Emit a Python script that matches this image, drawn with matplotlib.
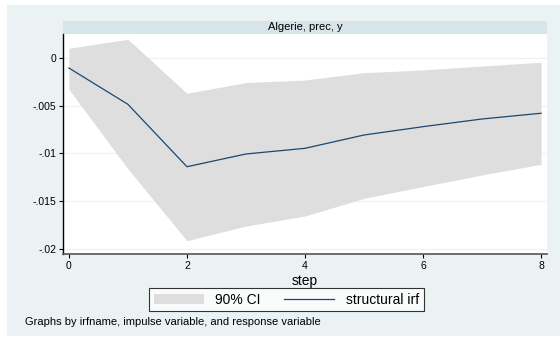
import matplotlib
matplotlib.use("Agg")
import matplotlib.pyplot as plt
from matplotlib.patches import Rectangle, Patch
from matplotlib.lines import Line2D

plt.rcParams['font.family'] = ['Liberation Sans', 'DejaVu Sans']

# impulse response
steps = [0, 1, 2, 3, 4, 5, 6, 7, 8]
irf = [-0.00108, -0.00487, -0.01138, -0.01005, -0.00946, -0.00807, -0.0072, -0.0064, -0.0058]
ci_upper = [0.00098, 0.00192, -0.00372, -0.0026, -0.00233, -0.00157, -0.00128, -0.00087, -0.00048]
ci_lower = [-0.0033, -0.0116, -0.0191, -0.01757, -0.01652, -0.01468, -0.01345, -0.01224, -0.01113]

yticks = [0, -0.005, -0.01, -0.015, -0.02]
ytick_labels = ['0', '-.005', '-.01', '-.015', '-.02']
xticks = [0, 2, 4, 6, 8]

panel_title = 'Algerie, prec, y'
note = 'Graphs by irfname, impulse variable, and response variable'

W, H = 560, 338
bg = '#eaf2f3'
strip = '#d7e4ea'
ci_col = '#dedede'
line_col = '#1a476f'

fig = plt.figure(figsize=(W / 100, H / 100), dpi=100)
fig.patch.set_facecolor('white')


def fx(px):
    return px / W


def fy(py):
    return 1 - py / H


# light blue background of the graph region
fig.patches.append(Rectangle((fx(7), fy(336)), fx(553), 331 / H, transform=fig.transFigure,
                             facecolor=bg, edgecolor='none', zorder=-10))
# title strip
fig.patches.append(Rectangle((fx(63), fy(34)), fx(484), 13 / H, transform=fig.transFigure,
                             facecolor=strip, edgecolor='none', zorder=-5))
fig.text(fx(305), fy(27.5), panel_title, ha='center', va='center', fontsize=8)

ax = fig.add_axes([fx(63), fy(254.3), fx(484), (254.3 - 34) / H])
ax.set_facecolor('white')
ax.fill_between(steps, ci_lower, ci_upper, color=ci_col, linewidth=0, zorder=2)
ax.plot(steps, irf, color=line_col, linewidth=0.9, zorder=3)

ax.set_xlim(-0.1, 8.1)
ax.set_ylim(-0.02052, 0.00247)
ax.set_yticks(yticks)
ax.set_yticklabels(ytick_labels)
ax.set_xticks(xticks)
ax.grid(axis='y', color=bg, linewidth=0.8, zorder=1)
ax.set_axisbelow(True)

for s in ['top', 'right']:
    ax.spines[s].set_visible(False)
ax.spines['left'].set_color('black')
ax.spines['left'].set_linewidth(1.0)
ax.spines['bottom'].set_color('#555555')
ax.spines['bottom'].set_linewidth(1.2)
ax.tick_params(axis='both', labelsize=7.5, length=3, width=0.8, direction='out', pad=2)
ax.set_xlabel('step', fontsize=10, labelpad=2)

handles = [Patch(facecolor=ci_col, edgecolor='none'),
           Line2D([0], [0], color=line_col, linewidth=0.9)]
leg = fig.legend(handles, ['90% CI', 'structural irf'], loc='center',
                 bbox_to_anchor=(fx(286.5), fy(299.5)), ncol=2, fontsize=10,
                 frameon=True, fancybox=False, borderpad=0.3, handlelength=3.6,
                 columnspacing=1.7, handletextpad=0.85)
leg.get_frame().set_edgecolor('black')
leg.get_frame().set_linewidth(0.8)
leg.get_frame().set_facecolor('white')

fig.text(fx(25), fy(322), note, ha='left', va='center', fontsize=8)

fig.savefig('out.png', dpi=100, facecolor=fig.get_facecolor())
